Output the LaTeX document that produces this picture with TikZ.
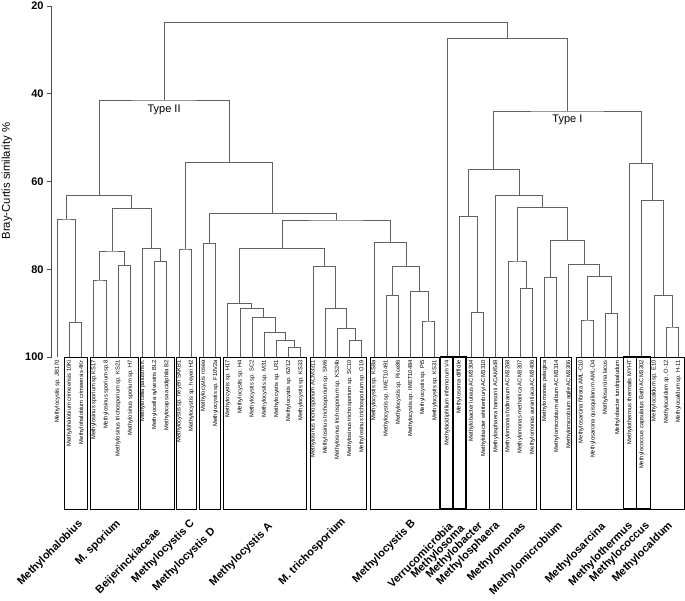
\documentclass[tikz,border=0pt]{standalone}
\usepackage{fontspec}
\setmainfont{Liberation Sans}
\usetikzlibrary{calc}
\newcommand\mrg[4]{\path let \p1=($(#2)!0.5!(#3)$) in (\x1,-#4pt) coordinate (#1);\draw[tree] (#2) |- (#1) -| (#3);}
\newcommand\leaflab[2]{\node[leaf] (t#1) at ([yshift=-3pt]L#1) {#2};}
\newcommand\grpbox[3][]{\draw[box,#1] (#2,357) rectangle (#3,509);}
\begin{document}
\begin{tikzpicture}[x=1pt,y=-1pt,
  tree/.style={draw=black!62,line width=0.9pt},
  box/.style={draw=black,line width=0.8pt},
  thickbox/.style={line width=1.5pt},
  leaf/.style={rotate=90,anchor=east,inner sep=0pt,font=\fontsize{5.8}{6}\selectfont},
  grp/.style={rotate=45,anchor=east,inner sep=0pt,font=\fontsize{11}{12}\selectfont\bfseries},
  tick/.style={anchor=east,inner sep=0pt,font=\fontsize{11}{12}\selectfont\bfseries},
  typelab/.style={inner sep=0pt,font=\fontsize{11}{12}\selectfont}]
\useasboundingbox (0,0) rectangle (685,601);
% leaves
\foreach \i in {1,...,52}{\coordinate (L\i) at ({57.3+12.18*(\i-1)},357);}
% axis
\coordinate (ax0) at (51.7,6);
\coordinate (ax1) at (51.7,357);
\draw[black!70,line width=0.8pt] (ax0) -- (ax1);
\foreach \v/\yy in {20/6,40/93.75,60/181.5,80/269.25,100/357}{
  \coordinate (tk\v) at (51.7,\yy);
  \draw[black!70,line width=0.8pt] (tk\v) -- ++(-4.5,0);
  \node[tick] (tl\v) at ([xshift=-8pt]tk\v) {\v};
}
\node[rotate=90,inner sep=0pt,font=\fontsize{11.3}{12}\selectfont] (ytitle) at (7,181) {Bray-Curtis similarity \%};
% Type II left
\mrg{m23}{L2}{L3}{322.3}
\mrg{h1}{L1}{m23}{219}
\mrg{s1}{L4}{L5}{280}
\mrg{s2}{L6}{L7}{265.7}
\mrg{s12}{s1}{s2}{251}
\mrg{bj1}{L9}{L10}{261.3}
\mrg{bj2}{L8}{bj1}{248.3}
\mrg{sb}{s12}{bj2}{208.3}
\mrg{TtwoL}{h1}{sb}{195.3}
% Type II right
\mrg{cc1}{L11}{L12}{249}
\mrg{dd1}{L13}{L14}{243.7}
\mrg{a6}{L20}{L21}{347.7}
\mrg{a5}{L19}{a6}{340.3}
\mrg{a4}{L18}{a5}{332.3}
\mrg{a3}{L17}{a4}{317.3}
\mrg{a2}{L16}{a3}{308.3}
\mrg{a1}{L15}{a2}{303.7}
\mrg{tr4}{L25}{L26}{340.7}
\mrg{tr3}{L24}{tr4}{328.7}
\mrg{tr2}{L23}{tr3}{308.3}
\mrg{tr1}{L22}{tr2}{266.7}
\mrg{atr}{a1}{tr1}{248.7}
\mrg{b6}{L31}{L32}{321}
\mrg{b5}{L30}{b6}{291.7}
\mrg{b4}{L28}{L29}{295.3}
\mrg{b3}{b4}{b5}{266.7}
\mrg{bb2}{L27}{b3}{242.7}
\mrg{atb}{atr}{bb2}{220}
\mrg{datb}{dd1}{atb}{213.3}
\mrg{cd}{cc1}{datb}{162.7}
\mrg{Ttwo}{TtwoL}{cd}{100}
% Type I
\mrg{mb}{L35}{L36}{312.7}
\mrg{so}{L34}{mb}{216.7}
\mrg{mm3}{L39}{L40}{288.3}
\mrg{mm2}{L38}{mm3}{261}
\mrg{mi}{L41}{L42}{277.7}
\mrg{sa1}{L44}{L45}{320}
\mrg{sa2}{L46}{L47}{313.3}
\mrg{sa}{sa1}{sa2}{276.7}
\mrg{ag}{L43}{sa}{264.3}
\mrg{mia}{mi}{ag}{240.7}
\mrg{mma}{mm2}{mia}{207.7}
\mrg{sph}{L37}{mma}{195.7}
\mrg{ToneL}{so}{sph}{169.3}
\mrg{ca2}{L51}{L52}{327}
\mrg{ca1}{L50}{ca2}{295.3}
\mrg{ccs}{L49}{ca1}{200.7}
\mrg{th}{L48}{ccs}{163.3}
\mrg{Tone}{ToneL}{th}{111}
\mrg{vTone}{L33}{Tone}{38.3}
\mrg{root}{Ttwo}{vTone}{22.3}
\node[typelab] (typeII) at ([yshift=-10pt]Ttwo) {Type II};
\node[typelab] (typeI) at ([yshift=-9pt]Tone) {Type I};
% boxes
\grpbox{64.5}{87.5}
\grpbox{90}{138}
\grpbox{140}{174}
\grpbox{176.5}{196.5}
\grpbox{199}{220.5}
\grpbox{223}{306}
\grpbox{310}{366}
\grpbox{370}{439.5}
\grpbox[thickbox]{440.5}{453}
\grpbox[thickbox]{453}{466}
\grpbox{466}{489.5}
\grpbox{489.5}{502}
\grpbox{502}{536}
\grpbox{540}{571.5}
\grpbox{576}{623.5}
\grpbox[thickbox]{623.5}{636.5}
\grpbox[thickbox]{636.5}{650.5}
\grpbox{650.5}{684.5}
% leaf labels
\leaflab{1}{Methylocystis sp. JB170}
\leaflab{2}{Methylohalobium crimeensis 10Ki}
\leaflab{3}{Methylohalobium crimeensis 4Kr}
\leaflab{4}{Methylosinus sporium sp.KS17}
\leaflab{5}{Methylosinus sporium sp.8}
\leaflab{6}{Methylosinus trichosporium sp. KS21}
\leaflab{7}{Methylosinus sporium sp. H7}
\leaflab{8}{Methylocella palustris K}
\leaflab{9}{Methylocella sylvestris BL2}
\leaflab{10}{Methylocapsa acidiphila B2}
\leaflab{11}{Methylocystis sp. heyeri SAKB1}
\leaflab{12}{Methylocystis sp. heyeri H2}
\leaflab{13}{Methylocystis rosea}
\leaflab{14}{Methylocystis sp. F10V2a}
\leaflab{15}{Methylocystis sp. H17}
\leaflab{16}{Methylocystis sp. H4}
\leaflab{17}{Methylocystis sp. SC2}
\leaflab{18}{Methylocystis sp. M31}
\leaflab{19}{Methylocystis sp. LR1}
\leaflab{20}{Methylocystis sp. 62/12}
\leaflab{21}{Methylocystis sp. KS33}
\leaflab{22}{Methylosinus trichosporium ACM3311}
\leaflab{23}{Methylosinus trichosporium sp. SM6}
\leaflab{24}{Methylosinus trichosporium sp. KS24b}
\leaflab{25}{Methylosinus trichosporium sp. SC10}
\leaflab{26}{Methylosinus trichosporium sp. O19}
\leaflab{27}{Methylocystis sp. KS8a}
\leaflab{28}{Methylocystis sp. IMET10491}
\leaflab{29}{Methylocystis sp. Rice86}
\leaflab{30}{Methylocystis sp. IMET10484}
\leaflab{31}{Methylocystis sp. Pi5}
\leaflab{32}{Methylocystis sp. KS31}
\leaflab{33}{Methylacidiphilium infernorum V4}
\leaflab{34}{Methylosoma difficile}
\leaflab{35}{Methylobacter luteus ACM3304}
\leaflab{36}{Methylobacter whittenburyi ACM3310}
\leaflab{37}{Methylosphaera hansonii ACAM549}
\leaflab{38}{Methylomonas fodinarum ACM3268}
\leaflab{39}{Methylomonas methanica ACM3307}
\leaflab{40}{Methylomonas aurantiaca ACM3406}
\leaflab{41}{Methylomonas pelagica}
\leaflab{42}{Methylomicrobium album ACM3314}
\leaflab{43}{Methylomicrobium agile ACM3306}
\leaflab{44}{Methylosarcina fibrata AML-C10}
\leaflab{45}{Methylosarcina quisquiliarum AML-D4}
\leaflab{46}{Methylosarcina lacus}
\leaflab{47}{Methylobacter tundripaludum}
\leaflab{48}{Methylothermus thermalis MYHT}
\leaflab{49}{Methylococcus capsulatus Bath ACM3302}
\leaflab{50}{Methylocaldum sp. E10}
\leaflab{51}{Methylocaldum sp. O-12}
\leaflab{52}{Methylocaldum sp. H-11}
% group labels
\node[grp] (g1) at (81,522) {Methylohalobius};
\node[grp] (g2) at (119,522) {M. sporium};
\node[grp] (g3) at (159,531) {Beijerinckiaceae};
\node[grp] (g4) at (193,522) {Methylocystis C};
\node[grp] (g5) at (214,530) {Methylocystis D};
\node[grp] (g6) at (271,525) {Methylocystis A};
\node[grp] (g7) at (344,520) {M. trichosporium};
\node[grp] (g8) at (414,522) {Methylocystis B};
\node[grp] (g9) at (451,524) {Verrucomicrobia};
\node[grp] (g10) at (463,527) {Methylosoma};
\node[grp] (g11) at (481,524) {Methylobacter};
\node[grp] (g12) at (498,524) {Methylosphaera};
\node[grp] (g13) at (524,525) {Methylomonas};
\node[grp] (g14) at (561,524) {Methylomicrobium};
\node[grp] (g15) at (604,525) {Methylosarcina};
\node[grp] (g16) at (631,524) {Methylothermus};
\node[grp] (g17) at (648,524) {Methylococcus};
\node[grp] (g18) at (671,524) {Methylocaldum};
\end{tikzpicture}
\end{document}
